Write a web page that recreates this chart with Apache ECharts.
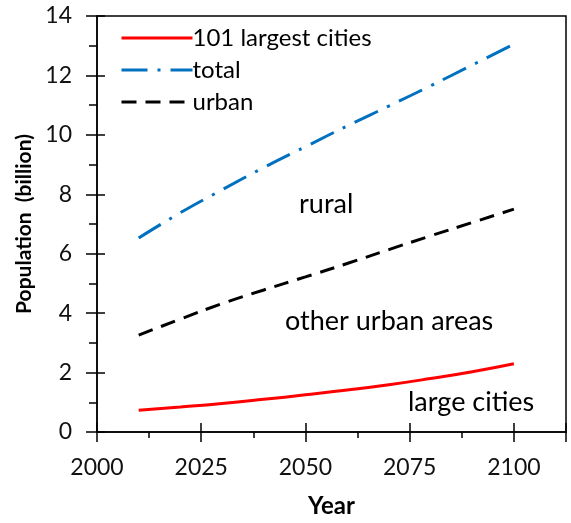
<!DOCTYPE html>
<html>
<head>
<meta charset="utf-8">
<script src="https://cdn.jsdelivr.net/npm/echarts@6/dist/echarts.min.js"></script>
<style>html,body{margin:0;padding:0;background:#fff;}#c{width:571px;height:523px;}</style>
</head>
<body>
<div id="c"></div>
<script>
const years = [2010, 2020, 2030, 2040, 2050, 2060, 2070, 2080, 2090, 2100];
const largestCities = [0.73, 0.84, 0.96, 1.10, 1.25, 1.41, 1.59, 1.80, 2.03, 2.30];
const totalPop = [6.53, 7.38, 8.15, 8.90, 9.60, 10.30, 10.97, 11.65, 12.35, 13.05];
const urbanPop = [3.26, 3.80, 4.32, 4.78, 5.22, 5.67, 6.14, 6.60, 7.05, 7.50];
const seriesNames = ['101 largest cities', 'total', 'urban'];
const regionLabels = ['rural', 'other urban areas', 'large cities'];

const FONT = 'Lato';
const chart = echarts.init(document.getElementById('c'));
const pair = arr => years.map((y, i) => [y, arr[i]]);
const hidden = {show:false};
chart.setOption({
  animation: false,
  grid: {left: 97, top: 16, right: 5, bottom: 91, show: true, borderColor: '#000', borderWidth: 1.5, backgroundColor: 'transparent'},
  legend: {
    left: 115, top: 21, orient: 'vertical', itemWidth: 71, itemHeight: 20, itemGap: 8,
    itemStyle: {opacity: 0},
    lineStyle: {width: 3},
    textStyle: {fontFamily: FONT, fontSize: 24, color: '#000', padding: [0,0,0,-5]},
    data: seriesNames
  },
  xAxis: [{
    type: 'value', min: 2000, max: 2112.5, interval: 25,
    axisLine: {lineStyle: {color: '#000', width: 1.5}},
    axisTick: {show: true, length: 10, lineStyle: {color: '#000', width: 1.5}},
    axisLabel: {fontFamily: FONT, fontSize: 23, color: '#111', margin: 24,
      formatter: v => (v % 25 === 0 ? String(v) : '')},
    splitLine: hidden,
    name: 'Year', nameLocation: 'middle', nameGap: 62,
    nameTextStyle: {fontFamily: FONT, fontSize: 24, fontWeight: 'bold', color: '#000'}
  }, {
    type: 'value', min: 2000, max: 2112.5, interval: 25, position: 'bottom',
    axisLine: hidden, axisLabel: hidden, splitLine: hidden,
    axisTick: {show: true, inside: true, length: 9, lineStyle: {color: '#000', width: 1.5}}
  }, {
    type: 'value', min: 2000, max: 2112.5, interval: 12.5, position: 'bottom',
    axisLine: hidden, axisLabel: hidden, splitLine: hidden,
    axisTick: {show: true, length: 6, lineStyle: {color: '#000', width: 1.5}}
  }],
  yAxis: [{
    type: 'value', min: 0, max: 14, interval: 2,
    axisLine: {show: true, lineStyle: {color: '#000', width: 1.5}},
    axisTick: {show: true, length: 11, lineStyle: {color: '#000', width: 1.5}},
    axisLabel: {fontFamily: FONT, fontSize: 23, color: '#111', margin: 25},
    splitLine: hidden,
    name: 'Population  (billion)', nameLocation: 'middle', nameGap: 62,
    nameTextStyle: {fontFamily: FONT, fontSize: 21, fontWeight: 'bold', color: '#000'}
  }, {
    type: 'value', min: 0, max: 14, interval: 2, position: 'left',
    axisLine: hidden, axisLabel: hidden, splitLine: hidden,
    axisTick: {show: true, inside: true, length: 8, lineStyle: {color: '#000', width: 1.5}}
  }, {
    type: 'value', min: 0, max: 14, interval: 1, position: 'left',
    axisLine: hidden, axisLabel: hidden, splitLine: hidden,
    axisTick: {show: true, length: 8, lineStyle: {color: '#000', width: 1.5}}
  }],
  series: [{
    name: seriesNames[0], type: 'line', data: pair(largestCities), smooth: true, showSymbol: false,
    symbol: 'none', lineStyle: {color: '#ff0000', width: 3}, itemStyle: {color: '#ff0000'}
  }, {
    name: seriesNames[1], type: 'line', data: pair(totalPop), smooth: true, showSymbol: false,
    symbol: 'none', lineStyle: {color: '#0070c0', width: 3, type: [26, 10, 3, 10]}, itemStyle: {color: '#0070c0'}
  }, {
    name: seriesNames[2], type: 'line', data: pair(urbanPop), smooth: true, showSymbol: false,
    symbol: 'none', lineStyle: {color: '#000', width: 3, type: [15, 9]}, itemStyle: {color: '#000'}
  }],
  graphic: [
    {type: 'text', left: 299, top: 191, style: {text: regionLabels[0], font: '27px ' + FONT, fill: '#000'}},
    {type: 'text', left: 285, top: 308, style: {text: regionLabels[1], font: '27px ' + FONT, fill: '#000'}},
    {type: 'text', left: 408, top: 389, style: {text: regionLabels[2], font: '27px ' + FONT, fill: '#000'}}
  ]
});
</script>
</body>
</html>
